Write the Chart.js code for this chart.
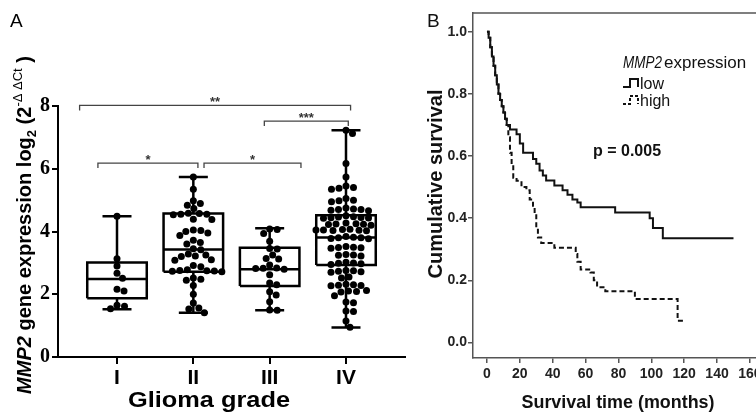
<!DOCTYPE html>
<html>
<head>
<meta charset="utf-8">
<script src="https://cdn.jsdelivr.net/npm/chart.js@4.4.1/dist/chart.umd.min.js"></script>
<style>
  body { margin: 0; background: #fff; overflow: hidden; width: 756px; height: 412px; position: relative; }
  canvas { position: absolute; top: 0; }
  #box_chart { left: 0; }
  #survival_chart { left: 410px; }
</style>
</head>
<body>
<canvas id="box_chart" width="410" height="412"></canvas>
<canvas id="survival_chart" width="370" height="412"></canvas>
<script>
// ---- panel A: MMP2 expression by glioma grade ----
const gradeLabels = ["I", "II", "III", "IV"];

const gradeI = [4.49, 3.13, 2.90, 2.67, 2.51, 2.16, 2.10, 1.65, 1.62, 1.54];
const gradeII = [5.74, 5.35, 4.98, 4.89, 4.84, 4.73, 4.58, 4.57, 4.55, 4.55, 4.53, 4.39, 4.38,
  4.05, 4.03, 4.00, 3.95, 3.87, 3.72, 3.65, 3.60, 3.45, 3.42, 3.28, 3.25, 3.22, 3.20, 3.10,
  3.08, 2.92, 2.88, 2.78, 2.76, 2.75, 2.74, 2.73, 2.72, 2.52, 2.48, 2.45, 2.28, 2.00, 1.72,
  1.56, 1.53, 1.41];
const gradeIII = [4.08, 4.06, 3.94, 3.69, 3.46, 3.44, 3.25, 3.14, 3.12, 2.93, 2.84, 2.83,
  2.82, 2.80, 2.62, 2.36, 2.30, 2.08, 1.98, 1.76, 1.50, 1.49];
const gradeIV = [7.23, 7.12, 6.17, 5.74, 5.45, 5.40, 5.38, 5.35, 5.05, 5.00, 4.98, 4.95,
  4.75, 4.72, 4.70, 4.70, 4.68, 4.66, 4.50, 4.47, 4.46, 4.45, 4.44, 4.43, 4.42, 4.27, 4.25,
  4.24, 4.23, 4.22, 4.20, 4.07, 4.06, 4.05, 4.05, 4.04, 4.03, 4.02, 3.84, 3.82, 3.80, 3.80,
  3.78, 3.77, 3.52, 3.50, 3.49, 3.48, 3.47, 3.27, 3.25, 3.24, 3.22, 3.02, 3.00, 2.99, 2.97,
  2.95, 2.76, 2.75, 2.73, 2.72, 2.70, 2.55, 2.52, 2.32, 2.30, 2.29, 2.28, 2.27, 2.12, 2.10,
  2.09, 2.07, 1.95, 1.75, 1.73, 1.47, 1.45, 1.15, 0.95];

const boxMin = [1.52, 1.41, 1.49, 0.94];
const boxQ1 = [1.87, 2.72, 2.26, 2.93];
const boxMedian = [2.49, 3.43, 2.80, 3.81];
const boxQ3 = [3.01, 4.57, 3.48, 4.52];
const boxMax = [4.49, 5.74, 4.10, 7.23];

// significance brackets (grade axis units)
const bracketFrom = [0.51, 2.93, 0.75, 2.14];
const bracketTo = [4.06, 4.03, 2.06, 3.41];
const bracketLevel = [8.02, 7.52, 6.18, 6.18];
const bracketStars = ["**", "***", "*", "*"];

// ---- panel B: Kaplan-Meier survival ----
const lowMonths = [0, 1, 2, 3, 4, 5, 6, 7, 8, 9, 10, 11, 12, 14, 18, 20, 22, 28, 30, 32, 34,
  36, 41, 46, 49, 52, 55, 57, 78, 99, 101, 107, 150];
const lowSurvival = [1, 0.98, 0.95, 0.92, 0.89, 0.86, 0.83, 0.80, 0.78, 0.76, 0.74, 0.72,
  0.70, 0.685, 0.67, 0.64, 0.61, 0.59, 0.575, 0.553, 0.537, 0.521, 0.505, 0.49, 0.475, 0.46,
  0.45, 0.435, 0.418, 0.40, 0.368, 0.335, 0.335];
const highMonths = [0, 1, 2, 3, 4, 5, 6, 7, 8, 9, 10, 11, 12, 13, 14, 15, 16, 18, 21, 24, 26,
  28, 29, 30, 31, 33, 41, 54, 55, 57, 63, 65, 67, 72, 90, 116, 120];
const highSurvival = [1, 0.98, 0.95, 0.92, 0.89, 0.86, 0.83, 0.80, 0.78, 0.76, 0.74, 0.72,
  0.70, 0.66, 0.61, 0.57, 0.53, 0.52, 0.50, 0.49, 0.46, 0.44, 0.415, 0.37, 0.338, 0.32, 0.305,
  0.285, 0.26, 0.235, 0.225, 0.20, 0.178, 0.165, 0.14, 0.07, 0.07];
const pValueText = "p = 0.005";

const SANS = "'Liberation Sans', Arial, sans-serif";
const SERIF = "'Liberation Serif', 'Times New Roman', serif";
const BOX_HALF = 0.39;
const CAP_HALF = 0.19;
const X_PX = 76.3;
const Y_PX = 31.4;
const DOT = 7.2;

window.onload = init;

function init() {
  initBoxChart();
  initSurvivalChart();
}

function drawText(ctx, text, x, y, font, width, align) {
  ctx.save();
  ctx.font = font;
  let w = ctx.measureText(text).width;
  ctx.translate(x, y);
  if (width) ctx.scale(width / w, 1);
  ctx.textAlign = align || "center";
  ctx.textBaseline = "alphabetic";
  ctx.fillText(text, 0, 0);
  ctx.restore();
}

function drawVertical(ctx, parts, cx, cy, baseline) {
  ctx.save();
  ctx.translate(cx, cy);
  ctx.rotate(-Math.PI / 2);
  ctx.textAlign = "left";
  ctx.textBaseline = "alphabetic";
  let total = 0;
  parts.forEach(p => {
    ctx.font = p.font;
    p.w = ctx.measureText(p.text).width;
    total += p.w;
  });
  let u = -total / 2;
  parts.forEach(p => {
    ctx.font = p.font;
    ctx.fillText(p.text, u, baseline + (p.dy || 0));
    u += p.w;
  });
  ctx.restore();
}

// simple beeswarm: spread equal-ish values sideways so dots don't overlap
function swarm(values, center) {
  let placed = [];
  let sorted = values.slice().sort((a, b) => b - a);
  return sorted.map(v => {
    let py = v * Y_PX;
    let off = 0;
    for (let k = 0; k < 400; k++) {
      off = (k % 2 === 1 ? 1 : -1) * Math.ceil(k / 2) * 0.5;
      let ok = placed.every(p => (p.x - off) ** 2 + (p.y - py) ** 2 >= DOT * DOT);
      if (ok) break;
    }
    placed.push({ x: off, y: py });
    return { x: center + off / X_PX, y: v };
  });
}

function boxSegments() {
  let pts = [];
  gradeLabels.forEach((g, i) => {
    let c = i + 1;
    let l = c - BOX_HALF, r = c + BOX_HALF;
    let gap = { x: c, y: null };
    pts.push({ x: l, y: boxQ1[i] }, { x: r, y: boxQ1[i] }, { x: r, y: boxQ3[i] },
      { x: l, y: boxQ3[i] }, { x: l, y: boxQ1[i] }, gap);
    pts.push({ x: l, y: boxMedian[i] }, { x: r, y: boxMedian[i] }, gap);
    pts.push({ x: c, y: boxQ3[i] }, { x: c, y: boxMax[i] }, gap);
    pts.push({ x: c - CAP_HALF, y: boxMax[i] }, { x: c + CAP_HALF, y: boxMax[i] }, gap);
    pts.push({ x: c, y: boxQ1[i] }, { x: c, y: boxMin[i] }, gap);
    pts.push({ x: c - CAP_HALF, y: boxMin[i] }, { x: c + CAP_HALF, y: boxMin[i] }, gap);
  });
  return pts;
}

function bracketSegments() {
  let pts = [];
  bracketStars.forEach((s, i) => {
    let drop = 0.16;
    pts.push({ x: bracketFrom[i], y: bracketLevel[i] - drop }, { x: bracketFrom[i], y: bracketLevel[i] },
      { x: bracketTo[i], y: bracketLevel[i] }, { x: bracketTo[i], y: bracketLevel[i] - drop },
      { x: bracketTo[i], y: null });
  });
  return pts;
}

function initBoxChart() {
  const ctx = document.getElementById("box_chart");
  let dots = []
    .concat(swarm(gradeI, 1), swarm(gradeII, 2), swarm(gradeIII, 3), swarm(gradeIV, 4));

  const boxText = {
    id: "boxText",
    afterDraw(chart) {
      const c = chart.ctx;
      const xs = chart.scales.x, ys = chart.scales.y;
      c.fillStyle = "#000";
      drawText(c, "A", 10, 27, "19px " + SANS, null, "left");
      drawText(c, "Glioma grade", 209, 407, "bold 22px " + SANS, 162, "center");
      drawVertical(c, [
        { text: "MMP2", font: "italic bold 20px " + SANS },
        { text: " gene expression log", font: "bold 20px " + SANS },
        { text: "2", font: "bold 13px " + SANS, dy: 5 },
        { text: " (2", font: "bold 20px " + SANS },
        { text: "-\u0394 \u0394Ct", font: "13px " + SANS, dy: -9 },
        { text: " )", font: "bold 20px " + SANS },
      ], 24, 225, 7);
      c.fillStyle = "#333";
      bracketStars.forEach((s, i) => {
        let x = xs.getPixelForValue((bracketFrom[i] + bracketTo[i]) / 2);
        let y = ys.getPixelForValue(bracketLevel[i]) + 1;
        drawText(c, s, x, y, "bold 13px " + SANS, null, "center");
      });
    },
  };

  new Chart(ctx, {
    type: "line",
    data: {
      datasets: [
        {
          data: dots,
          showLine: false,
          pointRadius: 3.5,
          pointBackgroundColor: "#000",
          pointBorderWidth: 0,
        },
        {
          data: boxSegments(),
          borderColor: "#000",
          borderWidth: 2.5,
          pointRadius: 0,
          spanGaps: false,
          tension: 0,
        },
        {
          data: bracketSegments(),
          borderColor: "#444",
          borderWidth: 1.3,
          pointRadius: 0,
          spanGaps: false,
          clip: false,
        },
      ],
    },
    options: {
      responsive: false,
      animation: false,
      devicePixelRatio: 1,
      layout: { padding: { top: 106, right: 5, left: 0, bottom: 0 } },
      plugins: { legend: { display: false }, tooltip: { enabled: false } },
      scales: {
        x: {
          type: "linear",
          min: 0.227,
          max: 4.773,
          afterFit: s => { s.height = 55; },
          border: { color: "#000", width: 2 },
          grid: { drawOnChartArea: false, tickLength: 7, color: "#000", lineWidth: 2 },
          ticks: {
            stepSize: 1,
            includeBounds: false,
            autoSkip: false,
            maxRotation: 0,
            padding: 2,
            color: "#000",
            font: { family: SANS, weight: "bold", size: 21 },
            callback: v => gradeLabels[v - 1],
          },
        },
        y: {
          min: 0,
          max: 8,
          afterFit: s => { s.width = 58; },
          border: { color: "#000", width: 2 },
          grid: { drawOnChartArea: false, tickLength: 6, color: "#000", lineWidth: 2 },
          ticks: {
            stepSize: 2,
            padding: 2,
            color: "#000",
            font: { family: SERIF, weight: "bold", size: 20 },
          },
        },
      },
    },
    plugins: [boxText],
  });
}

function toPoints(xs, ys) {
  return xs.map((x, i) => ({ x: x, y: ys[i] }));
}

function initSurvivalChart() {
  const ctx = document.getElementById("survival_chart");
  const OFF = 410;

  const survivalText = {
    id: "survivalText",
    afterDraw(chart) {
      const c = chart.ctx;
      const a = chart.chartArea;
      c.save();
      c.strokeStyle = "#555";
      c.lineWidth = 1.5;
      c.beginPath();
      c.moveTo(a.left, a.top);
      c.lineTo(a.right, a.top);
      c.stroke();
      c.restore();

      c.fillStyle = "#111";
      drawText(c, "B", 427 - OFF, 27, "19px " + SANS, null, "left");
      drawText(c, "Survival time (months)", 618 - OFF, 408, "bold 19px " + SANS, 193, "center");
      drawVertical(c, [{ text: "Cumulative survival", font: "bold 20px " + SANS }],
        435 - OFF, 184, 7);

      // legend
      drawText(c, "MMP2", 623 - OFF, 68, "italic 17px " + SANS, 39, "left");
      drawText(c, "expression", 664 - OFF, 68, "17px " + SANS, null, "left");
      drawText(c, "low", 640 - OFF, 89, "16px " + SANS, null, "left");
      drawText(c, "high", 640 - OFF, 106, "16px " + SANS, null, "left");
      [[87, []], [104, [3, 2]]].forEach(row => {
        let y = row[0];
        c.save();
        c.strokeStyle = "#111";
        c.lineWidth = 2;
        c.setLineDash(row[1]);
        c.beginPath();
        c.moveTo(623 - OFF, y);
        c.lineTo(630 - OFF, y);
        c.lineTo(630 - OFF, y - 8);
        c.lineTo(638 - OFF, y - 8);
        c.lineTo(638 - OFF, y);
        c.stroke();
        c.restore();
      });
      drawText(c, pValueText, 593 - OFF, 156, "bold 16px " + SANS, null, "left");
    },
  };

  new Chart(ctx, {
    type: "line",
    data: {
      datasets: [
        {
          label: "low",
          data: toPoints(lowMonths, lowSurvival),
          stepped: "before",
          borderColor: "#111",
          borderWidth: 2,
          pointRadius: 0,
        },
        {
          label: "high",
          data: toPoints(highMonths, highSurvival),
          stepped: "before",
          borderColor: "#111",
          borderWidth: 2,
          borderDash: [5, 3],
          pointRadius: 0,
        },
      ],
    },
    options: {
      responsive: false,
      animation: false,
      devicePixelRatio: 1,
      layout: { padding: { top: 13, right: 12, left: 0, bottom: 0 } },
      plugins: { legend: { display: false }, tooltip: { enabled: false } },
      scales: {
        x: {
          type: "linear",
          min: -8.5,
          max: 171,
          afterFit: s => { s.height = 54; },
          border: { color: "#555", width: 1.5 },
          grid: { drawOnChartArea: false, tickLength: 5, color: "#555", lineWidth: 1.5 },
          ticks: {
            stepSize: 20,
            includeBounds: false,
            autoSkip: false,
            maxRotation: 0,
            padding: 3,
            color: "#222",
            font: { family: SANS, weight: "bold", size: 14 },
          },
        },
        y: {
          min: -0.05,
          max: 1.06,
          afterFit: s => { s.width = 63; },
          border: { color: "#555", width: 1.5 },
          grid: { drawOnChartArea: false, tickLength: 5, color: "#555", lineWidth: 1.5 },
          ticks: {
            stepSize: 0.2,
            includeBounds: false,
            padding: 1,
            color: "#222",
            font: { family: SANS, weight: "bold", size: 14 },
            callback: v => v.toFixed(1),
          },
        },
      },
    },
    plugins: [survivalText],
  });
}
</script>
</body>
</html>
